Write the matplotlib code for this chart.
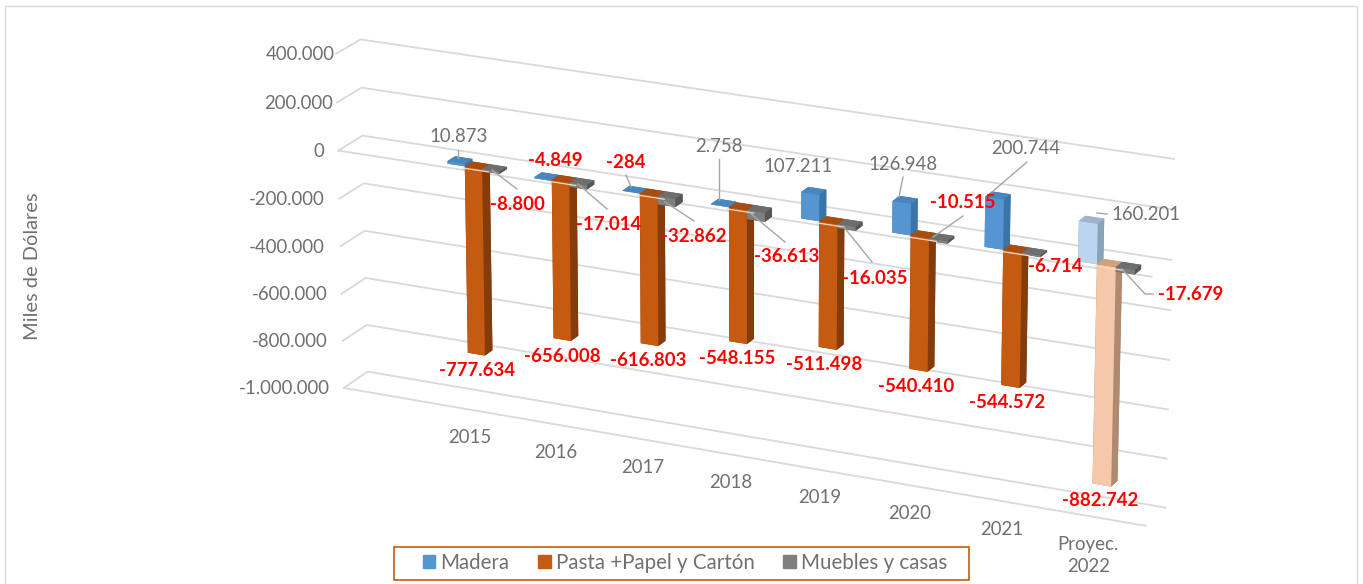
import matplotlib
matplotlib.use('Agg')
import matplotlib.pyplot as plt
from matplotlib.patches import Patch, Rectangle
from mpl_toolkits.mplot3d import proj3d

plt.rcParams['font.family'] = ['Lato', 'DejaVu Sans']

years = ['2015', '2016', '2017', '2018', '2019', '2020', '2021', 'Proyec.\n2022']
madera = [10873, -4849, -284, 2758, 107211, 126948, 200744, 160201]
pasta = [-777634, -656008, -616803, -548155, -511498, -540410, -544572, -882742]
muebles = [-8800, -17014, -32862, -36613, -16035, -10515, -6714, -17679]
ticks = [400000, 200000, 0, -200000, -400000, -600000, -800000, -1000000]

# label centres in pixels, hand placed like in the original
pos_madera = [(459,137),(555,160),(626,163),(719,146),(798,167),(903,164),(1026,149),(1146,214)]
pos_pasta = [(477,371),(562,356),(648,361),(737,359),(824,364),(916,386),(1007,402),(1100,501)]
pos_muebles = [(517,204),(609,225),(694,236),(787,257),(875,278),(963,203),(1055,267),(1191,295)]
tick_right = [335, 333, 324, 325, 325, 328, 328, 330]
leaders = [[(458,150),(458,158)],[(492,170),(517,189)],[(578,184),(607,209)],[(626,175),(631,187)],
           [(665,202),(694,221)],[(719,159),(719,200)],[(750,213),(785,242)],[(843,226),(872,262)],
           [(963,216),(933,237)],[(903,177),(899,197)],[(1027,162),(992,192)],[(1107,214),(1097,213)],
           [(1122,269),(1145,294),(1153,294)]]

# front, side, top
c_blue = ('#5596D2', '#3A74A8', '#4A86BE')
c_orange = ('#C55A11', '#843C0C', '#A84D0F')
c_gray = ('#7F7F7F', '#575757', '#6E6E6E')
c_blue_p = ('#BBD5EE', '#8AA3BA', '#9DB4CB')
c_orange_p = ('#F4C8A9', '#B08A70', '#D3A078')
grid_c = '#D9D9D9'
txt_c = '#707070'

W, H = 1363, 584
fig = plt.figure(figsize=(W/100, H/100), dpi=100)

S = 935
cx, cy = 732, 290
ax = fig.add_axes([(cx-S/2)/W, (H-cy-S/2)/H, S/W, S/H], projection='3d')
ax.set_proj_type('persp', focal_length=1.25)
ax.view_init(elev=20, azim=-65)
ax.set_box_aspect((883, 52, 360))
xlim = (-1.52, 7.52)
ax.set_xlim(*xlim); ax.set_ylim(0, 1); ax.set_zlim(ticks[-1], ticks[0])
ax.set_axis_off()
ax.computed_zorder = False
ax.patch.set_alpha(0)

for v in ticks:
    ax.plot([xlim[0], xlim[0], xlim[1]], [0, 1, 1], [v, v, v], color=grid_c, lw=1.3, zorder=1)
ax.plot(xlim, [0, 0], [ticks[-1]]*2, color=grid_c, lw=1.3, zorder=1)
ax.plot(xlim, [0, 0], [0, 0], color=grid_c, lw=1.3, zorder=1)

bw = 0.2
y0, dy = 0.2, 0.32
z = 2
for i in range(len(years)):
    for k, (vals, col) in enumerate([(madera, c_blue), (pasta, c_orange), (muebles, c_gray)]):
        v = vals[i]
        if i == len(years)-1:
            col = {0: c_blue_p, 1: c_orange_p, 2: c_gray}[k]
        f, s, t = col
        # faces: -z, +z, -y, +y, -x, +x
        ax.bar3d(i+(k-1.5)*bw, y0, min(v, 0), bw, dy, abs(v),
                 color=[s, t, f, s, s, s], shade=False, linewidth=0, zorder=z)
        z += 1
    # zero line shows through on the front of the orange bar
    ax.plot([i-bw/2, i+bw], [0.1, 0.1], [0, 0], color='#F6D9C0', lw=0.9, zorder=z)
    z += 1

M = ax.get_proj()
def to_px(x, y, v):
    a, b, _ = proj3d.proj_transform(x, y, v, M)
    px, py = ax.transData.transform((a, b))
    return px, H-py

ov = fig.add_axes([0, 0, 1, 1])
ov.set_xlim(0, W); ov.set_ylim(H, 0); ov.axis('off'); ov.patch.set_alpha(0)
ov.add_patch(Rectangle((5, 6), 1352, 600, fill=False, ec='#D9D9D9', lw=1))
ov.add_patch(Rectangle((394, 547), 575, 33, fc='white', ec='#C55A11', lw=1.2, zorder=5))

def fmt(v):
    return f'{v:,.0f}'.replace(',', '.')

for v, r in zip(ticks, tick_right):
    px, py = to_px(xlim[0], 0, v)
    ov.text(r, py+1, fmt(v), ha='right', va='center', fontsize=13.4, color=txt_c)
for i, y in enumerate(years):
    px, py = to_px(i, 0, ticks[-1])
    dx = -9 if i == len(years)-1 else -3
    ov.text(px+dx, py+19, y, ha='center', va='top', fontsize=13.4, color=txt_c, linespacing=1.3)
ov.text(33, 266, 'Miles de Dólares', rotation=90, ha='center', va='center', fontsize=14.4, color=txt_c)

for vals, poss in [(madera, pos_madera), (pasta, pos_pasta), (muebles, pos_muebles)]:
    for v, (px, py) in zip(vals, poss):
        if v < 0:
            ov.text(px, py, fmt(v), ha='center', va='center', fontsize=13.4, color='#FF0000', fontweight='bold')
        else:
            ov.text(px, py, fmt(v), ha='center', va='center', fontsize=13.4, color=txt_c)
for pts in leaders:
    ov.plot([p[0] for p in pts], [p[1] for p in pts], color='#A6A6A6', lw=1)

handles = [Patch(color=c_blue[0], label='Madera'), Patch(color=c_orange[0], label='Pasta +Papel y Cartón'),
           Patch(color=c_gray[0], label='Muebles y casas')]
leg = fig.legend(handles=handles, ncol=3, loc='center', bbox_to_anchor=(685/W, 1-563/H), fontsize=14.8,
                 frameon=False, handlelength=0.6, handleheight=0.6,
                 handletextpad=0.25, columnspacing=1.4, labelcolor=txt_c)
fig.savefig('out.png', dpi=100)
